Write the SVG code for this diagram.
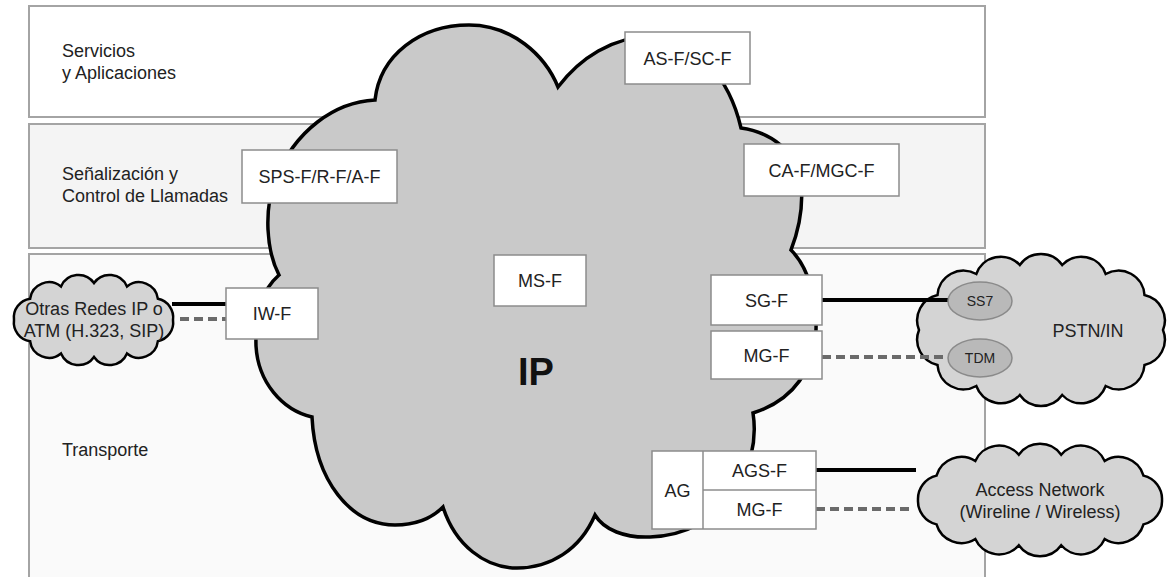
<svg xmlns="http://www.w3.org/2000/svg" width="1175" height="577" viewBox="0 0 1175 577">
  <style>
    text { font-family: "Liberation Sans", Arial, sans-serif; font-size: 18px; fill: #222; }
    .mid { text-anchor: middle; }
    .small { font-size: 14px; }
    .big { font-size: 38px; font-weight: bold; fill: #111; }
    .layer { stroke: #a4a4a4; stroke-width: 2; }
    .box { fill: #fff; stroke: #8c8c8c; stroke-width: 1.5; }
    .cloud { fill: #d4d4d4; stroke: #000; stroke-width: 2.5; stroke-linejoin: miter; }
    .ipcloud { fill: #c9c9c9; stroke: #000; stroke-width: 3.5; stroke-linejoin: miter; }
    .port { fill: #b9b9b9; stroke: #8a8a8a; stroke-width: 1.5; }
    .solid { stroke: #000; stroke-width: 4; fill: none; }
    .dashed { stroke: #6a6a6a; stroke-width: 4; stroke-dasharray: 9 5; fill: none; }
  </style>

  <rect width="1175" height="577" fill="#fff"/>

  <!-- functional layers -->
  <g id="layers">
    <rect class="layer" x="29" y="6" width="956" height="111" fill="#fff"/>
    <rect class="layer" x="29" y="124" width="956" height="124" fill="#f4f4f4"/>
    <rect class="layer" x="29" y="254" width="956" height="340" fill="#fafafa"/>
    <text x="62" y="57">Servicios</text>
    <text x="62" y="79">y Aplicaciones</text>
    <text x="62" y="180">Señalización y</text>
    <text x="62" y="202">Control de Llamadas</text>
    <text x="62" y="456">Transporte</text>
  </g>

  <!-- IP core network -->
  <g id="ip-cloud">
    <path class="ipcloud" d="M 375 100 C 380 55, 420 25, 469 25 C 512 25, 545 55, 558 87 C 580 58, 612 37, 652 36 C 695 35, 730 80, 741 128 C 770 132, 796 150, 801 182 C 804 210, 798 232, 791 250 C 809 268, 817 300, 816 330 C 814 368, 795 400, 753 413 C 762 470, 722 535, 650 537 C 625 538, 604 530, 595 515 C 580 550, 550 568, 517 568 C 485 568, 455 545, 443 507 C 430 520, 415 525, 395 525 C 350 525, 315 480, 312 417 C 282 410, 258 382, 256 346 C 255 312, 262 290, 279 275 C 266 250, 264 210, 275 180 C 295 130, 335 102, 375 100 Z"/>
    <text class="big mid" x="536" y="385">IP</text>
  </g>

  <!-- external networks -->
  <g id="other-networks">
    <path class="cloud" d="M 173 320 A 19 19 0 0 1 157.9 341.2 A 19 19 0 0 1 127 353.5 A 19 19 0 0 1 94 357 A 19 19 0 0 1 61 353.5 A 19 19 0 0 1 30.1 341.2 A 19 19 0 0 1 14 320 A 19 19 0 0 1 30.1 298.8 A 19 19 0 0 1 61 286.5 A 19 19 0 0 1 94 283 A 19 19 0 0 1 127 286.5 A 19 19 0 0 1 157.9 298.8 A 19 19 0 0 1 173 320 Z"/>
    <text class="mid" x="94" y="315">Otras Redes IP o</text>
    <text class="mid" x="94" y="337">ATM (H.323, SIP)</text>
  </g>

  <g id="pstn">
    <path class="cloud" d="M 1163 330 A 26 26 0 0 1 1144.5 365 A 26 26 0 0 1 1105.7 386 A 26 26 0 0 1 1062.2 395 A 26 26 0 0 1 1019.8 395 A 26 26 0 0 1 976.3 386 A 26 26 0 0 1 937.5 365 A 26 26 0 0 1 919 330 A 26 26 0 0 1 937.5 295 A 26 26 0 0 1 976.3 274 A 26 26 0 0 1 1019.8 265 A 26 26 0 0 1 1062.2 265 A 26 26 0 0 1 1105.7 274 A 26 26 0 0 1 1144.5 295 A 26 26 0 0 1 1163 330 Z"/>
    <text class="mid" x="1088" y="337">PSTN/IN</text>
  </g>

  <g id="access-network">
    <path class="cloud" d="M 1162 500 A 24 24 0 0 1 1143.5 524.4 A 26 26 0 0 1 1104.7 539 A 26 26 0 0 1 1061.2 545.3 A 26 26 0 0 1 1018.8 545.3 A 26 26 0 0 1 975.3 539 A 26 26 0 0 1 936.5 524.4 A 24 24 0 0 1 918 500 A 24 24 0 0 1 936.5 475.6 A 26 26 0 0 1 975.3 461 A 26 26 0 0 1 1018.8 454.7 A 26 26 0 0 1 1061.2 454.7 A 26 26 0 0 1 1104.7 461 A 26 26 0 0 1 1143.5 475.6 A 24 24 0 0 1 1162 500 Z"/>
    <text class="mid" x="1040" y="496">Access Network</text>
    <text class="mid" x="1040" y="518">(Wireline / Wireless)</text>
  </g>

  <!-- links -->
  <g id="connectors">
    <line class="solid" x1="172" y1="304" x2="226" y2="304"/>
    <line class="dashed" x1="180" y1="319" x2="226" y2="319"/>
    <line class="solid" x1="822" y1="300" x2="949" y2="300"/>
    <line class="dashed" x1="822" y1="357" x2="949" y2="357"/>
    <line class="solid" x1="816" y1="470" x2="916" y2="470"/>
    <line class="dashed" x1="816" y1="509" x2="913" y2="509"/>
  </g>

  <!-- PSTN interfaces -->
  <g id="ss7">
    <ellipse class="port" cx="980" cy="301" rx="32" ry="19"/>
    <text class="mid small" x="980" y="306">SS7</text>
  </g>
  <g id="tdm">
    <ellipse class="port" cx="980" cy="358" rx="32" ry="19"/>
    <text class="mid small" x="980" y="363">TDM</text>
  </g>

  <!-- functional entities -->
  <g id="as-f">
    <rect class="box" x="625" y="32" width="125" height="52"/>
    <text class="mid" x="687.5" y="64.5">AS-F/SC-F</text>
  </g>
  <g id="sps-f">
    <rect class="box" x="242" y="150" width="155" height="53"/>
    <text class="mid" x="319.5" y="183">SPS-F/R-F/A-F</text>
  </g>
  <g id="ca-f">
    <rect class="box" x="744" y="144" width="155" height="52"/>
    <text class="mid" x="821.5" y="176.5">CA-F/MGC-F</text>
  </g>
  <g id="ms-f">
    <rect class="box" x="494" y="255" width="92" height="51"/>
    <text class="mid" x="540" y="287">MS-F</text>
  </g>
  <g id="iw-f">
    <rect class="box" x="226" y="288" width="92" height="51"/>
    <text class="mid" x="272" y="320">IW-F</text>
  </g>
  <g id="sg-f">
    <rect class="box" x="711" y="275" width="111" height="50"/>
    <text class="mid" x="766.5" y="306.5">SG-F</text>
  </g>
  <g id="mg-f">
    <rect class="box" x="711" y="331" width="111" height="48"/>
    <text class="mid" x="766.5" y="361.5">MG-F</text>
  </g>
  <g id="ag">
    <rect class="box" x="652" y="451" width="164" height="78"/>
    <line x1="703" y1="451" x2="703" y2="529" stroke="#8c8c8c" stroke-width="1.5"/>
    <line x1="703" y1="490" x2="816" y2="490" stroke="#8c8c8c" stroke-width="1.5"/>
    <text class="mid" x="677.5" y="496.5">AG</text>
    <text class="mid" x="759.5" y="477">AGS-F</text>
    <text class="mid" x="759.5" y="516">MG-F</text>
  </g>
</svg>
